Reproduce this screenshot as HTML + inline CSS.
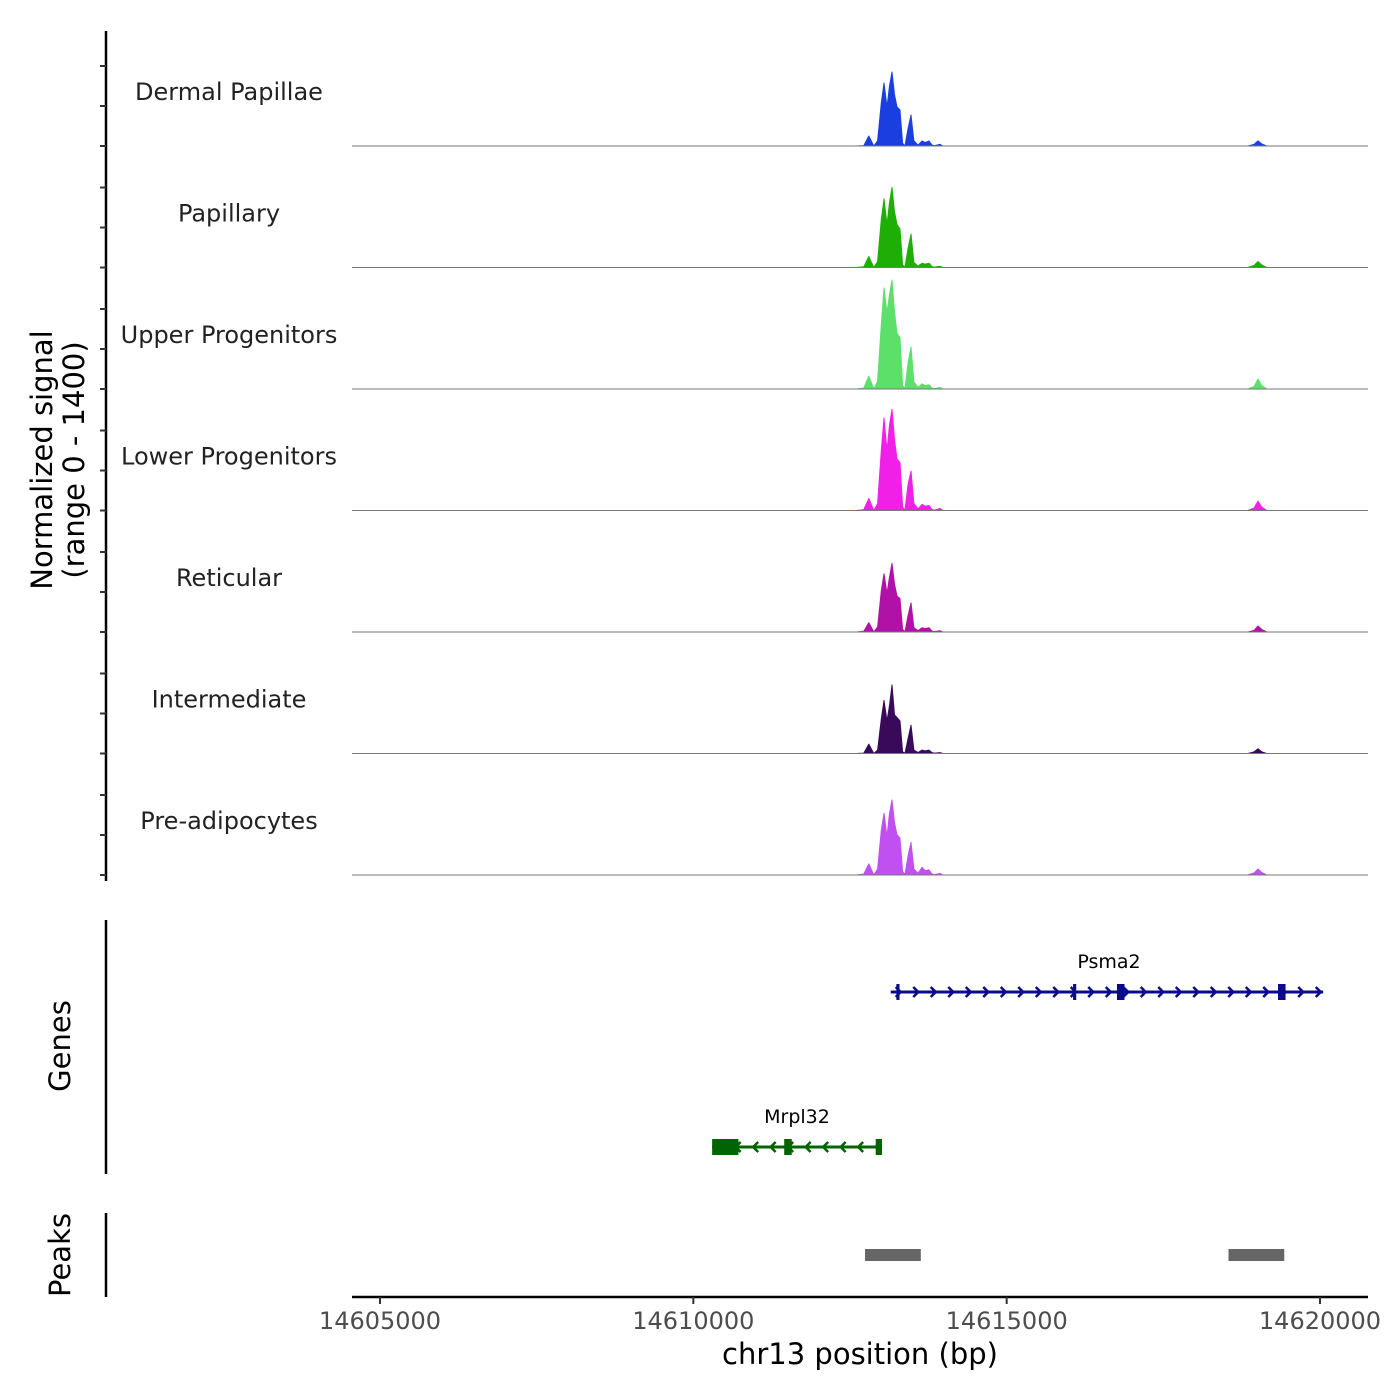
<!DOCTYPE html>
<html><head><meta charset="utf-8"><style>
body{margin:0;background:#fff}
svg{display:block;font-family:"DejaVu Sans","Liberation Sans",sans-serif}
</style></head><body>
<svg id="c" width="1400" height="1400" viewBox="0 0 1400 1400"></svg>
<script>
const trackNames = ["Dermal Papillae","Papillary","Upper Progenitors","Lower Progenitors","Reticular","Intermediate","Pre-adipocytes"];
const trackColors = ["#1a3fe0","#1fae05","#5ce06a","#f020e8","#b012a8","#3a0a5a","#c050f0"];
const positions = [14612600,14612720,14612800,14612880,14612940,14613000,14613042,14613090,14613130,14613170,14613210,14613250,14613298,14613340,14613377,14613425,14613473,14613520,14613585,14613650,14613700,14613760,14613808,14613850,14613936,14613980,14618850,14618950,14619010,14619070,14619150];
const sigDermal = [0,5,117,0,60,500,735,455,700,863,600,455,420,30,3,200,362,60,10,58,40,58,10,5,20,0,0,20,60,25,0];
const sigPapillary = [0,8,130,0,70,560,800,500,760,933,650,500,450,30,3,220,390,60,15,50,40,50,10,5,15,0,0,25,70,30,0];
const sigUpper = [0,10,150,0,90,750,1180,890,1100,1270,900,650,600,40,5,300,490,80,20,60,40,50,10,5,20,0,0,30,115,40,0];
const sigLower = [0,10,140,0,80,700,1080,700,1000,1180,830,600,560,40,5,300,460,80,20,70,50,60,10,5,25,0,0,30,110,40,0];
const sigReticular = [0,8,110,0,60,480,680,450,640,800,560,420,390,30,3,190,340,50,15,50,40,50,10,5,15,0,0,20,70,30,0];
const sigIntermediate = [0,5,110,0,40,400,620,380,560,800,450,420,380,20,3,170,330,40,10,40,30,40,10,5,10,0,0,20,55,20,0];
const sigPreadipo = [0,10,130,0,70,520,720,450,720,875,610,470,430,40,5,220,380,70,20,90,50,60,10,5,20,0,0,25,70,30,0];
const signals = [sigDermal,sigPapillary,sigUpper,sigLower,sigReticular,sigIntermediate,sigPreadipo];
const xTicks = [14605000,14610000,14615000,14620000];
const psma2Exons = [[14613240,14613290],[14616060,14616110],[14616760,14616880],[14619330,14619450]];
const psma2Range = [14613150,14620050];
const mrpl32Exons = [[14610300,14610720],[14611450,14611570],[14612910,14613010]];
const mrpl32Range = [14610300,14613010];
const peakRegions = [[14612740,14613630],[14618540,14619430]];

const NS="http://www.w3.org/2000/svg", svg=document.getElementById('c');
const X0=352,X1=1368, B0=14604553, B1=14620766;
const xs=b=>X0+(b-B0)/(B1-B0)*(X1-X0);
const base0=146, trackH=121.5, ys=v=>v*120/1400;
function el(t,a,p){const e=document.createElementNS(NS,t);for(const k in a)e.setAttribute(k,a[k]);(p||svg).appendChild(e);return e;}

let ax=el('line',{x1:106,y1:31,x2:106,y2:881,stroke:'#000','stroke-width':2.5});


for(let i=0;i<7;i++){const b=base0+i*trackH;
 for(let j=0;j<3;j++){const t=el('line',{x1:100,x2:106,y1:b-j*40,y2:b-j*40,stroke:'#333','stroke-width':2});
 
 }}
let yt=el('text',{x:0,y:0,'font-size':29,'text-anchor':'middle',transform:'translate(52,460) rotate(-90)'});


yt.textContent='Normalized signal';
let yt2=el('text',{x:0,y:0,'font-size':29,'text-anchor':'middle',transform:'translate(84,460) rotate(-90)'});


yt2.textContent='(range 0 - 1400)';

for(let i=0;i<7;i++){
 const b=base0+i*trackH, s=signals[i];
 let d='M'+xs(positions[0])+','+b;
 positions.forEach((p,k)=>{d+=' L'+xs(p).toFixed(1)+','+(b-ys(s[k])).toFixed(1);});
 d+=' L'+xs(positions[positions.length-1])+','+b+' Z';
 const pa=el('path',{d:d,fill:trackColors[i],stroke:trackColors[i],'stroke-width':1,'stroke-linejoin':'round'});
 
 
 const bl=el('line',{x1:X0,x2:X1,y1:b,y2:b,stroke:'#777','stroke-width':1});
 
 
 const lb=el('text',{x:229,y:b-46,'font-size':24,'text-anchor':'middle',fill:'#222'});
 
 
 lb.textContent=trackNames[i];
}

let ga=el('line',{x1:106,y1:920,x2:106,y2:1174,stroke:'#000','stroke-width':2.5});


let gt=el('text',{x:0,y:0,'font-size':29,'text-anchor':'middle',transform:'translate(70,1046) rotate(-90)'});


gt.textContent='Genes';
function gene(name,range,exons,y,color,dir){
 const g=el('g',{});
 
 
 const a=xs(range[0]),b=xs(range[1]);
 el('line',{x1:a,x2:b,y1:y,y2:y,stroke:color,'stroke-width':3},g);
 for(let x=a+8;x<b+4;x+=17.5){
   const p=dir>0?`M${x-3},${y-5} L${x+2},${y} L${x-3},${y+5}`:`M${x+3},${y-5} L${x-2},${y} L${x+3},${y+5}`;
   el('path',{d:p,fill:'none',stroke:color,'stroke-width':2.5},g);}
 exons.forEach(e=>{const x1=xs(e[0]),x2=xs(e[1]);el('rect',{x:x1,y:y-8,width:Math.max(3,x2-x1),height:16,fill:color},g);});
 const t=el('text',{x:(a+b)/2,y:y-24,'font-size':19,'text-anchor':'middle',fill:'#000'},g);
 t.textContent=name; return t;}
const t1=gene('Psma2',psma2Range,psma2Exons,992,'#0a0a8c',1); t1.setAttribute('x',1109);
const t2=gene('Mrpl32',mrpl32Range,mrpl32Exons,1147,'#006400',-1); t2.setAttribute('x',797);

let pa2=el('line',{x1:106,y1:1213,x2:106,y2:1297,stroke:'#000','stroke-width':2.5});


let pt=el('text',{x:0,y:0,'font-size':29,'text-anchor':'middle',transform:'translate(70,1255) rotate(-90)'});


pt.textContent='Peaks';
peakRegions.forEach(r=>{const pr=el('rect',{x:xs(r[0]),y:1249,width:xs(r[1])-xs(r[0]),height:12,fill:'#666'});
 
 });

let xa=el('line',{x1:X0,x2:X1,y1:1297,y2:1297,stroke:'#000','stroke-width':2.5});


xTicks.forEach(t=>{const x=xs(t);
 const tk=el('line',{x1:x,x2:x,y1:1297,y2:1304,stroke:'#333','stroke-width':2});
 
 
 const tl=el('text',{x:x,y:1329,'font-size':24,'text-anchor':'middle',fill:'#4d4d4d'});
 
 
 tl.textContent=t;});
let xt=el('text',{x:860,y:1364,'font-size':29,'text-anchor':'middle',fill:'#000'});


xt.textContent='chr13 position (bp)';
</script>
</body></html>
